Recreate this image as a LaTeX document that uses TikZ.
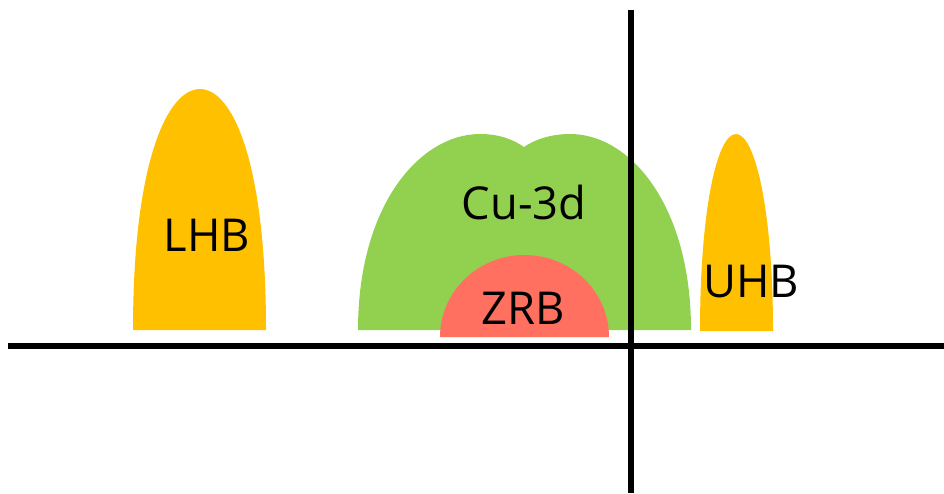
\documentclass[tikz,border=0pt]{standalone}
\usepackage{fontspec}
\setmainfont{Open Sans}
\definecolor{hubyellow}{HTML}{FFC000}
\definecolor{cugreen}{HTML}{92D050}
\definecolor{zrbred}{HTML}{FF7061}
\begin{document}
\begin{tikzpicture}[x=0.75pt,y=-0.75pt,
  lbl/.style={anchor=base,inner sep=0pt,font=\fontsize{34}{40}\selectfont,text=black},
  axis/.style={line width=3.9pt,black}]
\useasboundingbox (0,0) rectangle (944,493);
% LHB
\fill[hubyellow] (133,330) .. controls (133,160) and (168,89) .. (200,89)
  .. controls (232,89) and (266,160) .. (266,330) -- cycle;
% Cu-3d
\fill[cugreen] (358,330) .. controls (358,205) and (420,134) .. (480,134)
  .. controls (500,134) and (514,140) .. (524,147)
  .. controls (534,140) and (550,134) .. (570,134)
  .. controls (630,134) and (691,205) .. (691,330) -- cycle;
% ZRB
\fill[zrbred] (440,337) arc[start angle=180,end angle=360,x radius=84.5,y radius=82] -- cycle;
% UHB
\fill[hubyellow] (700,331) .. controls (700,210) and (717,134) .. (736,134)
  .. controls (755,134) and (773,210) .. (773,331) -- cycle;
% axes
\coordinate (hl) at (8,346);
\coordinate (hr) at (944,346);
\coordinate (vt) at (631,10);
\coordinate (vb) at (631,493);
\draw[axis] (hl) -- (hr);
\draw[axis] (vt) -- (vb);
% labels
\node[lbl] (lhb) at (207,251) {LHB};
\node[lbl] (cu) at (524,219) {Cu-3d};
\node[lbl] (zrb) at (523,324) {ZRB};
\node[lbl] (uhb) at (751,297) {UHB};
\end{tikzpicture}
\end{document}
